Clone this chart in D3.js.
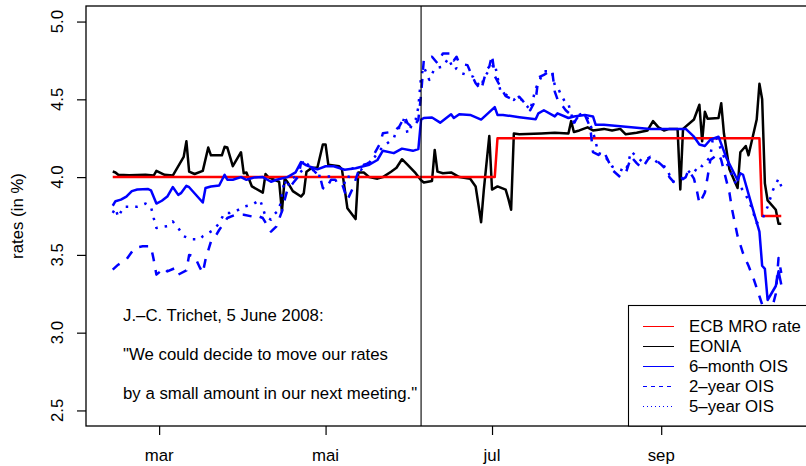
<!DOCTYPE html>
<html>
<head>
<meta charset="utf-8">
<script src="https://cdn.jsdelivr.net/npm/d3@7"></script>
<style>
  html, body { margin: 0; padding: 0; background: #ffffff; }
  svg { display: block; }
  text { font-family: "Liberation Sans", Arial, Helvetica, sans-serif; fill: #000; }
</style>
</head>
<body>
<svg id="chart" width="806" height="466"></svg>
<script>
// ECB main refinancing rate (step changes)
const mroRate = [["2008-02-13",4.00],["2008-07-02",4.00],["2008-07-03",4.25],["2008-10-07",4.25],["2008-10-08",3.75],["2008-10-15",3.75]];

// EONIA overnight rate
const eonia = [["2008-02-13",4.036],["2008-02-14",4.03],["2008-02-15",4.015],["2008-02-19",4.012],["2008-02-25",4.015],["2008-02-28",4.01],["2008-02-29",4.04],["2008-03-03",4.015],["2008-03-06",4.01],["2008-03-10",4.13],["2008-03-11",4.23],["2008-03-12",4.035],["2008-03-14",4.02],["2008-03-17",4.04],["2008-03-19",4.19],["2008-03-20",4.14],["2008-03-24",4.14],["2008-03-25",4.195],["2008-03-26",4.19],["2008-03-28",4.07],["2008-03-31",4.16],["2008-04-01",4.025],["2008-04-02",4.03],["2008-04-04",3.94],["2008-04-08",3.90],["2008-04-09",4.02],["2008-04-10",4.00],["2008-04-14",3.97],["2008-04-15",3.78],["2008-04-16",3.99],["2008-04-17",3.97],["2008-04-19",3.91],["2008-04-22",3.875],["2008-04-23",3.895],["2008-04-24",4.035],["2008-04-26",4.06],["2008-04-28",4.06],["2008-04-30",4.21],["2008-05-01",4.21],["2008-05-02",4.08],["2008-05-06",4.07],["2008-05-07",4.05],["2008-05-09",3.80],["2008-05-12",3.73],["2008-05-13",4.03],["2008-05-15",4.03],["2008-05-17",4.00],["2008-05-20",3.99],["2008-05-22",4.00],["2008-05-25",4.035],["2008-05-27",4.06],["2008-05-29",4.115],["2008-05-31",4.08],["2008-06-03",4.025],["2008-06-05",3.98],["2008-06-06",3.965],["2008-06-09",3.975],["2008-06-10",4.175],["2008-06-11",4.035],["2008-06-13",4.025],["2008-06-16",4.03],["2008-06-19",4.00],["2008-06-23",3.99],["2008-06-25",3.94],["2008-06-27",3.71],["2008-06-28",3.92],["2008-06-30",4.265],["2008-07-01",3.92],["2008-07-03",3.94],["2008-07-06",3.92],["2008-07-07",3.86],["2008-07-08",3.79],["2008-07-09",4.28],["2008-07-11",4.275],["2008-07-19",4.28],["2008-07-24",4.285],["2008-07-29",4.28],["2008-07-30",4.36],["2008-07-31",4.29],["2008-08-02",4.30],["2008-08-05",4.32],["2008-08-07",4.30],["2008-08-11",4.31],["2008-08-14",4.30],["2008-08-17",4.31],["2008-08-19",4.275],["2008-08-23",4.285],["2008-08-27",4.30],["2008-08-29",4.36],["2008-08-31",4.32],["2008-09-02",4.30],["2008-09-04",4.31],["2008-09-07",4.31],["2008-09-08",3.92],["2008-09-09",4.31],["2008-09-13",4.37],["2008-09-15",4.465],["2008-09-16",4.23],["2008-09-17",4.42],["2008-09-18",4.375],["2008-09-22",4.38],["2008-09-23",4.475],["2008-09-24",4.28],["2008-09-26",4.05],["2008-09-29",3.93],["2008-09-30",4.16],["2008-10-02",4.20],["2008-10-03",4.14],["2008-10-06",4.37],["2008-10-07",4.60],["2008-10-08",4.50],["2008-10-09",3.96],["2008-10-10",3.85],["2008-10-13",3.79],["2008-10-14",3.70],["2008-10-15",3.70]];

// 6-month OIS
const ois6m = [["2008-02-13",3.816],["2008-02-14",3.845],["2008-02-16",3.855],["2008-02-18",3.875],["2008-02-20",3.91],["2008-02-22",3.92],["2008-02-26",3.923],["2008-02-27",3.915],["2008-02-29",3.83],["2008-03-02",3.848],["2008-03-04",3.875],["2008-03-06",3.936],["2008-03-08",3.886],["2008-03-09",3.897],["2008-03-11",3.944],["2008-03-12",3.935],["2008-03-17",3.837],["2008-03-18",3.93],["2008-03-20",3.94],["2008-03-23",3.946],["2008-03-25",4.015],["2008-03-26",3.983],["2008-03-28",3.983],["2008-03-31",4.00],["2008-04-02",3.983],["2008-04-05",3.998],["2008-04-08",4.00],["2008-04-11",3.97],["2008-04-13",3.983],["2008-04-17",4.00],["2008-04-20",4.03],["2008-04-22",4.096],["2008-04-24",4.075],["2008-04-28",4.05],["2008-05-01",4.07],["2008-05-04",4.07],["2008-05-08",4.047],["2008-05-12",4.057],["2008-05-17",4.08],["2008-05-20",4.11],["2008-05-22",4.17],["2008-05-26",4.154],["2008-05-29",4.183],["2008-06-02",4.169],["2008-06-04",4.18],["2008-06-05",4.37],["2008-06-06",4.38],["2008-06-09",4.383],["2008-06-12",4.35],["2008-06-16",4.404],["2008-06-17",4.38],["2008-06-19",4.404],["2008-06-23",4.40],["2008-06-27",4.37],["2008-07-02",4.45],["2008-07-03",4.40],["2008-07-05",4.40],["2008-07-11",4.385],["2008-07-17",4.372],["2008-07-18",4.41],["2008-07-20",4.43],["2008-07-24",4.39],["2008-07-25",4.41],["2008-07-29",4.38],["2008-07-31",4.39],["2008-08-04",4.40],["2008-08-07",4.39],["2008-08-08",4.336],["2008-08-11",4.336],["2008-08-15",4.33],["2008-08-21",4.32],["2008-08-28",4.31],["2008-09-04",4.31],["2008-09-10",4.31],["2008-09-13",4.26],["2008-09-15",4.21],["2008-09-17",4.20],["2008-09-19",4.24],["2008-09-22",4.26],["2008-09-25",4.12],["2008-09-28",4.015],["2008-09-29",3.98],["2008-09-30",4.025],["2008-10-01",4.015],["2008-10-04",3.83],["2008-10-07",3.65],["2008-10-08",3.43],["2008-10-09",3.41],["2008-10-10",3.21],["2008-10-13",3.30],["2008-10-14",3.395],["2008-10-15",3.31]];

// 2-year OIS
const ois2y = [["2008-02-13",3.405],["2008-02-15",3.437],["2008-02-18",3.47],["2008-02-21",3.545],["2008-02-24",3.555],["2008-02-27",3.555],["2008-02-28",3.47],["2008-02-29",3.373],["2008-03-03",3.416],["2008-03-04",3.394],["2008-03-07",3.416],["2008-03-08",3.373],["2008-03-11",3.40],["2008-03-12",3.50],["2008-03-14",3.49],["2008-03-16",3.416],["2008-03-17",3.384],["2008-03-18",3.47],["2008-03-20",3.587],["2008-03-22",3.63],["2008-03-23",3.66],["2008-03-26",3.737],["2008-03-29",3.758],["2008-04-01",3.758],["2008-04-04",3.747],["2008-04-05",3.758],["2008-04-08",3.737],["2008-04-11",3.65],["2008-04-13",3.683],["2008-04-15",3.78],["2008-04-16",3.854],["2008-04-17",3.918],["2008-04-19",3.96],["2008-04-21",4.004],["2008-04-22",4.09],["2008-04-24",4.10],["2008-04-27",4.036],["2008-04-29",4.00],["2008-04-30",3.93],["2008-05-01",3.918],["2008-05-03",3.983],["2008-05-05",3.983],["2008-05-07",3.96],["2008-05-09",3.854],["2008-05-11",3.93],["2008-05-13",4.036],["2008-05-15",4.08],["2008-05-17",4.09],["2008-05-21",4.218],["2008-05-22",4.282],["2008-05-26",4.293],["2008-05-28",4.325],["2008-05-30",4.39],["2008-05-31",4.347],["2008-06-02",4.315],["2008-06-04",4.368],["2008-06-05",4.53],["2008-06-06",4.753],["2008-06-09",4.774],["2008-06-11",4.732],["2008-06-13",4.795],["2008-06-16",4.795],["2008-06-17",4.75],["2008-06-18",4.774],["2008-06-19",4.73],["2008-06-22",4.72],["2008-06-23",4.678],["2008-06-25",4.603],["2008-06-27",4.56],["2008-06-29",4.69],["2008-06-30",4.71],["2008-07-01",4.785],["2008-07-02",4.65],["2008-07-05",4.55],["2008-07-06",4.52],["2008-07-09",4.496],["2008-07-11",4.517],["2008-07-14",4.453],["2008-07-15",4.43],["2008-07-17",4.496],["2008-07-18",4.64],["2008-07-20",4.657],["2008-07-23",4.69],["2008-07-24",4.55],["2008-07-25",4.50],["2008-07-28",4.43],["2008-07-30",4.40],["2008-07-31",4.35],["2008-08-02",4.40],["2008-08-04",4.40],["2008-08-06",4.32],["2008-08-07",4.16],["2008-08-09",4.143],["2008-08-11",4.164],["2008-08-13",4.09],["2008-08-14",4.047],["2008-08-17",4.00],["2008-08-19",4.025],["2008-08-21",4.13],["2008-08-23",4.09],["2008-08-25",4.057],["2008-08-27",4.11],["2008-08-28",4.13],["2008-08-30",4.11],["2008-09-01",4.08],["2008-09-03",4.047],["2008-09-04",4.00],["2008-09-06",3.96],["2008-09-08",3.975],["2008-09-10",4.00],["2008-09-11",4.047],["2008-09-13",3.99],["2008-09-14",3.92],["2008-09-15",3.83],["2008-09-17",3.90],["2008-09-18",4.00],["2008-09-19",4.11],["2008-09-22",4.15],["2008-09-23",4.11],["2008-09-24",4.04],["2008-09-26",3.90],["2008-09-27",3.79],["2008-09-29",3.62],["2008-10-01",3.51],["2008-10-03",3.43],["2008-10-05",3.34],["2008-10-07",3.234],["2008-10-08",3.18],["2008-10-09",3.10],["2008-10-10",3.05],["2008-10-13",3.25],["2008-10-14",3.48],["2008-10-15",3.384]];

// 5-year OIS
const ois5y = [["2008-02-13",3.77],["2008-02-14",3.80],["2008-02-15",3.743],["2008-02-17",3.81],["2008-02-20",3.81],["2008-02-22",3.81],["2008-02-25",3.83],["2008-02-27",3.81],["2008-02-28",3.737],["2008-02-29",3.673],["2008-03-02",3.68],["2008-03-04",3.685],["2008-03-06",3.715],["2008-03-08",3.673],["2008-03-10",3.62],["2008-03-13",3.60],["2008-03-16",3.60],["2008-03-17",3.62],["2008-03-19",3.64],["2008-03-21",3.66],["2008-03-23",3.705],["2008-03-25",3.77],["2008-03-27",3.77],["2008-03-29",3.78],["2008-04-01",3.81],["2008-04-04",3.822],["2008-04-07",3.854],["2008-04-09",3.747],["2008-04-11",3.726],["2008-04-12",3.758],["2008-04-14",3.79],["2008-04-16",3.983],["2008-04-17",3.93],["2008-04-18",3.983],["2008-04-20",4.004],["2008-04-22",4.036],["2008-04-25",4.09],["2008-04-27",4.025],["2008-04-28",4.01],["2008-05-01",4.004],["2008-05-04",4.004],["2008-05-05",3.97],["2008-05-09",3.96],["2008-05-10",4.047],["2008-05-11",4.057],["2008-05-14",4.047],["2008-05-16",4.08],["2008-05-19",4.13],["2008-05-22",4.196],["2008-05-26",4.25],["2008-05-27",4.30],["2008-05-29",4.336],["2008-05-30",4.39],["2008-05-31",4.28],["2008-06-02",4.347],["2008-06-03",4.368],["2008-06-04",4.45],["2008-06-05",4.646],["2008-06-06",4.71],["2008-06-08",4.625],["2008-06-10",4.70],["2008-06-13",4.71],["2008-06-15",4.764],["2008-06-17",4.69],["2008-06-18",4.70],["2008-06-20",4.667],["2008-06-24",4.646],["2008-06-25",4.614],["2008-06-27",4.58],["2008-06-28",4.636],["2008-06-30",4.69],["2008-07-02",4.73],["2008-07-04",4.56],["2008-07-07",4.517],["2008-07-09",4.496],["2008-07-10",4.517],["2008-07-12",4.496],["2008-07-14",4.453],["2008-07-15",4.43],["2008-07-17",4.57],["2008-07-20",4.68],["2008-07-23",4.68],["2008-07-24",4.59],["2008-07-25",4.58],["2008-07-26",4.54],["2008-07-28",4.475],["2008-07-29",4.47],["2008-07-31",4.346],["2008-08-02",4.40],["2008-08-03",4.41],["2008-08-05",4.38],["2008-08-06",4.336],["2008-08-07",4.293],["2008-08-09",4.154],["2008-08-11",4.143],["2008-08-14",4.068],["2008-08-19",4.036],["2008-08-21",4.164],["2008-08-25",4.10],["2008-08-28",4.13],["2008-08-31",4.09],["2008-09-03",4.06],["2008-09-05",3.97],["2008-09-08",3.983],["2008-09-12",4.047],["2008-09-13",4.03],["2008-09-15",4.08],["2008-09-16",4.07],["2008-09-19",4.13],["2008-09-20",4.26],["2008-09-21",4.26],["2008-09-24",4.13],["2008-09-25",4.09],["2008-09-28",3.97],["2008-09-30",3.94],["2008-10-02",3.886],["2008-10-04",3.81],["2008-10-06",3.705],["2008-10-08",3.726],["2008-10-10",3.81],["2008-10-12",3.918],["2008-10-14",3.99],["2008-10-15",3.94]];

// Axis ticks and labels
const yTicks = [2.5, 3.0, 3.5, 4.0, 4.5, 5.0];
const yTickLabels = ["2.5", "3.0", "3.5", "4.0", "4.5", "5.0"];
const xTickDates = ["2008-03-01", "2008-05-01", "2008-07-01", "2008-09-01"];
const xTickLabels = ["mar", "mai", "jul", "sep"];
const yRange = [2.5, 5.0];

// Annotation
const speechDate = "2008-06-05";
const quoteLines = ["J.\u2013C. Trichet, 5 June 2008:", "\"We could decide to move our rates", "by a small amount in our next meeting.\""];

// Legend entries
const legendLabels = ["ECB MRO rate", "EONIA", "6\u2013month OIS", "2\u2013year OIS", "5\u2013year OIS"];

const parse = d3.utcParse("%Y-%m-%d");
const W = 806, H = 466;
const plot = { left: 86, top: 6, right: 808, bottom: 426 };
const FONT = 16.8;
const LW = 2.5;

const seriesList = [
  { data: eonia,   color: "#000000", dash: null },
  { data: mroRate, color: "#ff0000", dash: null },
  { data: ois6m,   color: "#0000ff", dash: null },
  { data: ois2y,   color: "#0000ff", dash: "9,9" },
  { data: ois5y,   color: "#0000ff", dash: "2.5,7" }
];
const legendStyles = [
  { color: "#ff0000", dash: null },
  { color: "#000000", dash: null },
  { color: "#0000ff", dash: null },
  { color: "#0000ff", dash: "4,4" },
  { color: "#0000ff", dash: "1,3" }
];

// Date extent padded by 4% on both sides, as in a base R plot
const allDates = seriesList.flatMap(s => s.data.map(d => parse(d[0])));
const [d0, d1] = d3.extent(allDates);
const pad = (d1 - d0) * 0.04;
const x = d3.scaleUtc()
  .domain([new Date(+d0 - pad), new Date(+d1 + pad)])
  .range([plot.left, plot.right]);

const yPad = (yRange[1] - yRange[0]) * 0.04;
const y = d3.scaleLinear()
  .domain([yRange[0] - yPad, yRange[1] + yPad])
  .range([plot.bottom, plot.top]);

const svg = d3.select("#chart");
svg.append("rect").attr("width", W).attr("height", H).attr("fill", "#fff");

const clipId = "plotClip";
svg.append("clipPath").attr("id", clipId)
  .append("rect")
  .attr("x", plot.left).attr("y", plot.top)
  .attr("width", plot.right - plot.left).attr("height", plot.bottom - plot.top);

const line = d3.line()
  .x(d => x(parse(d[0])))
  .y(d => y(d[1]));

const lines = svg.append("g").attr("clip-path", `url(#${clipId})`);
seriesList.forEach(s => {
  lines.append("path")
    .attr("d", line(s.data))
    .attr("fill", "none")
    .attr("stroke", s.color)
    .attr("stroke-width", LW)
    .attr("stroke-linejoin", "round")
    .attr("stroke-dasharray", s.dash);
});

// Vertical marker at the speech date
svg.append("line")
  .attr("x1", x(parse(speechDate))).attr("x2", x(parse(speechDate)))
  .attr("y1", plot.top).attr("y2", plot.bottom)
  .attr("stroke", "#000").attr("stroke-width", 1.1);

// Plot frame
svg.append("rect")
  .attr("x", plot.left).attr("y", plot.top)
  .attr("width", plot.right - plot.left).attr("height", plot.bottom - plot.top)
  .attr("fill", "none").attr("stroke", "#000").attr("stroke-width", 1.3);

// Y axis
const yAxis = d3.axisLeft(y).tickValues(yTicks).tickSize(9).tickFormat("");
const gy = svg.append("g").attr("transform", `translate(${plot.left},0)`).call(yAxis);
gy.select(".domain").remove();
gy.selectAll(".tick line").attr("stroke", "#000").attr("stroke-width", 1.2);
yTicks.forEach((v, i) => {
  svg.append("text")
    .attr("transform", `translate(63,${y(v)}) rotate(-90)`)
    .attr("text-anchor", "middle")
    .attr("font-size", FONT)
    .text(yTickLabels[i]);
});
svg.append("text")
  .attr("transform", `translate(23,${(plot.top + plot.bottom) / 2}) rotate(-90)`)
  .attr("text-anchor", "middle")
  .attr("font-size", FONT)
  .text("rates (in %)");

// X axis
const xTicks = xTickDates.map(parse);
const xAxis = d3.axisBottom(x).tickValues(xTicks).tickSize(9).tickFormat("");
const gx = svg.append("g").attr("transform", `translate(0,${plot.bottom})`).call(xAxis);
gx.select(".domain").remove();
gx.selectAll(".tick line").attr("stroke", "#000").attr("stroke-width", 1.2);
xTicks.forEach((d, i) => {
  svg.append("text")
    .attr("x", x(d)).attr("y", 461)
    .attr("text-anchor", "middle")
    .attr("font-size", FONT)
    .text(xTickLabels[i]);
});

// Quote
const quoteY = [321, 360, 398.5];
quoteLines.forEach((t, i) => {
  svg.append("text")
    .attr("x", 123).attr("y", quoteY[i])
    .attr("font-size", FONT)
    .text(t);
});

// Legend
const lg = svg.append("g");
lg.append("rect")
  .attr("x", 628.5).attr("y", 305.5)
  .attr("width", plot.right - 628.5).attr("height", plot.bottom - 305.5)
  .attr("fill", "#fff").attr("stroke", "#000").attr("stroke-width", 1.1);
legendLabels.forEach((lab, i) => {
  const cy = Math.round(325.7 + i * 20.1) + 0.5;
  lg.append("line")
    .attr("x1", 643).attr("x2", 674)
    .attr("y1", cy).attr("y2", cy)
    .attr("stroke", legendStyles[i].color)
    .attr("stroke-width", 1)
    .attr("stroke-dasharray", legendStyles[i].dash);
  lg.append("text")
    .attr("x", 689).attr("y", cy + 5.5)
    .attr("font-size", FONT)
    .text(lab);
});
</script>
</body>
</html>
